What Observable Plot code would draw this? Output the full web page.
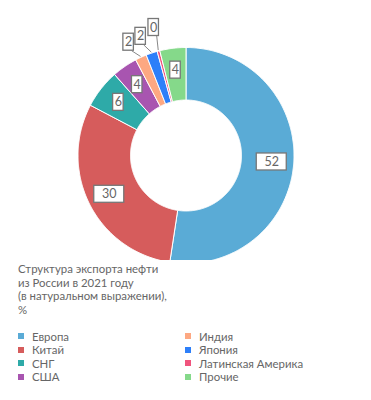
<!DOCTYPE html>
<html><head><meta charset="utf-8">
<script src="https://cdn.jsdelivr.net/npm/d3@7"></script>
<script src="https://cdn.jsdelivr.net/npm/@observablehq/plot@0.6"></script>
<style>
body{margin:0;background:#fff;font-family:Lato,"Open Sans",sans-serif;color:#666;}
#wrap{width:371px;}
#title{font-size:11.4px;line-height:13.5px;padding-left:18px;margin-top:2px;}
#legend{display:grid;grid-template-columns:167px 186px;padding-left:18px;margin-top:13.5px;font-size:11.4px;line-height:13.5px;}
.it{display:flex;align-items:center;white-space:nowrap;}
.sw{width:6px;height:6px;margin-right:8px;flex:none;}
</style></head>
<body><div id="wrap"><div id="chart"></div>
<div id="title">Структура экспорта нефти<br>из России в 2021 году<br>(в натуральном выражении),<br>%</div>
<div id="legend"></div></div>
<script>
const categories = ["Европа","Китай","СНГ","США","Индия","Япония","Латинская Америка","Прочие"];
const values = [52.4, 30.3, 5.8, 3.8, 1.7, 1.7, 0.4, 3.9];
const labels = ["52","30","6","4","2","2","0","4"];
const colors = ["#5aabd6","#d65c5c","#2eaaa8","#a855b0","#fda882","#2d7ff9","#f0547d","#85d98a"];

const R = 108, r0 = 55.5;
const arcs = d3.pie().sort(null).value(d => d)(values);
const pts = [];
arcs.forEach((a, i) => {
  const n = Math.max(4, Math.ceil((a.endAngle - a.startAngle) / 0.01));
  const ring = [];
  for (let k = 0; k <= n; k++) { const t = a.startAngle + (a.endAngle - a.startAngle) * k / n; ring.push([R * Math.sin(t), R * Math.cos(t)]); }
  for (let k = n; k >= 0; k--) { const t = a.startAngle + (a.endAngle - a.startAngle) * k / n; ring.push([r0 * Math.sin(t), r0 * Math.cos(t)]); }
  ring.push(ring[0]);
  ring.forEach(([x, y]) => pts.push({cat: categories[i], x, y}));
});

// layout for the outside (small-slice) labels: angle shift (deg) and radius
const outShift = [-2.2, -2.3, 0.6], outRad = [127, 127.5, 132];
let small = 0;
const lab = arcs.map((a, i) => {
  let m = (a.startAngle + a.endAngle) / 2;
  const out = values[i] < 3;
  let rr = 86;
  if (out) { m += outShift[small] * Math.PI / 180; rr = outRad[small]; small++; }
  const mid = (a.startAngle + a.endAngle) / 2;
  const w = labels[i].length > 1 ? 30 : 10.5;
  return {cat: categories[i], label: labels[i], out,
    x: rr * Math.sin(m), y: rr * Math.cos(m), w,
    ex: (R + 1) * Math.sin(mid), ey: (R + 1) * Math.cos(mid)};
});
const outs = lab.filter(d => d.out);

const chart = Plot.plot({
  width: 371, height: 260, margin: 0,
  x: {domain: [-185.5, 185.5], range: [0, 371], axis: null},
  y: {domain: [-105, 155], range: [260, 0], axis: null},
  color: {domain: categories, range: colors},
  style: {fontFamily: "Lato, 'Open Sans', sans-serif"},
  marks: [
    Plot.line(pts, {x: "x", y: "y", z: "cat", fill: "cat", stroke: "white", strokeWidth: 1, curve: "linear"}),
    Plot.link(outs, {x1: "ex", y1: "ey", x2: d => d.x + 3, y2: d => d.y - 8.5, stroke: "#888", strokeWidth: 1}),
    Plot.rect(lab, {x1: d => d.x - d.w / 2, x2: d => d.x + d.w / 2, y1: d => d.y - 8.5, y2: d => d.y + 8.5, fill: "white", stroke: "#777", strokeWidth: 1.3}),
    Plot.text(lab, {x: "x", y: "y", text: "label", fill: "#666", fontSize: 12.5})
  ]
});
document.getElementById("chart").appendChild(chart);

const lg = document.getElementById("legend");
const order = [0, 4, 1, 5, 2, 6, 3, 7];
order.forEach(i => {
  const d = document.createElement("div"); d.className = "it";
  d.innerHTML = `<span class="sw" style="background:${colors[i]}"></span><span>${categories[i]}</span>`;
  lg.appendChild(d);
});
</script></body></html>
